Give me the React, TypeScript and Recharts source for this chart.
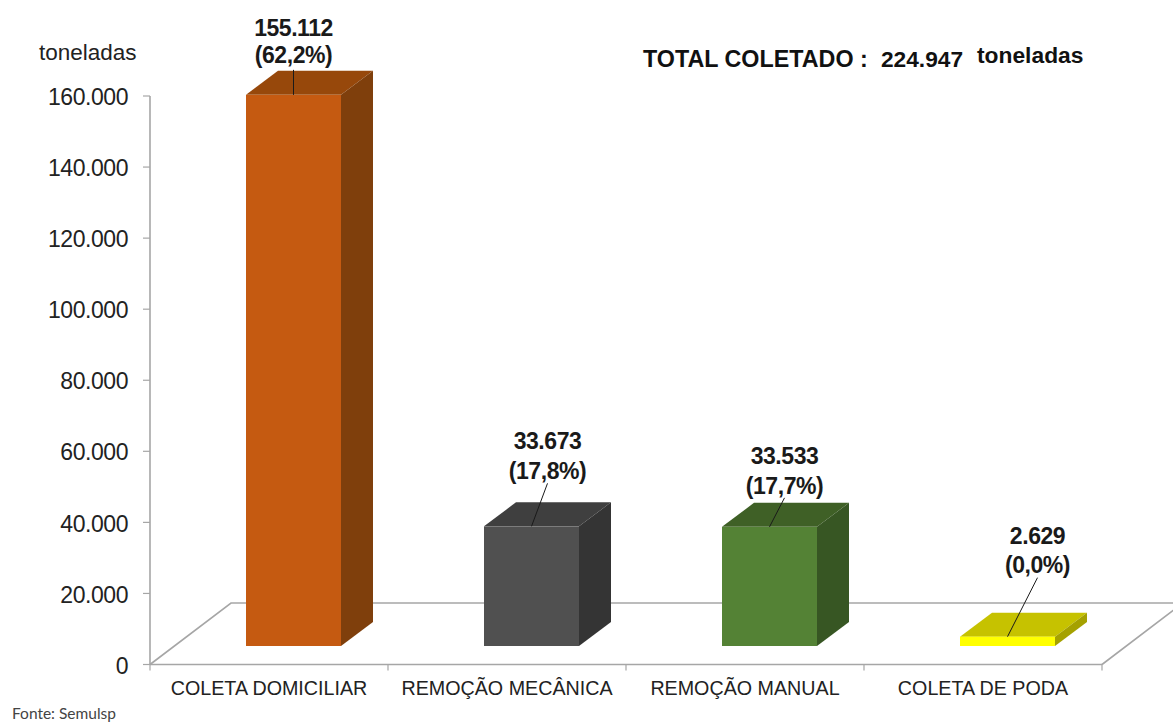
import { BarChart, Bar, XAxis, YAxis, LabelList } from 'recharts'

const categories = ['COLETA DOMICILIAR', 'REMOÇÃO MECÂNICA', 'REMOÇÃO MANUAL', 'COLETA DE PODA']
const values = [155112, 33673, 33533, 2629]
const percents = ['(62,2%)', '(17,8%)', '(17,7%)', '(0,0%)']
const yTicks = [0, 20000, 40000, 60000, 80000, 100000, 120000, 140000, 160000]

const data = categories.map((name, i) => ({ name, value: values[i] }))

const frontColors = ['#c55a11', '#505050', '#548235', '#ffff00']
const topColors = ['#97480b', '#3f3f3f', '#3f6026', '#c6c200']
const sideColors = ['#7f3f0c', '#343434', '#375623', '#a5a100']

// where each label sits relative to the top centre of its bar
const labelDx = [0, 16, 15, 30]
const labelDy = [-59, -77, -63, -93]
const labelGap = [27.5, 30, 30, 29]

const WIDTH = 1173
const HEIGHT = 722
const PLOT_LEFT = 150
const PLOT_RIGHT = 1102
const PLOT_TOP = 96
const PLOT_BOTTOM = 664.5
const SHIFT_X = 24
const SHIFT_Y = -18.5
const DEPTH_X = 32
const DEPTH_Y = 24
const FLOOR_BACK = 603
const AXIS_COLOR = '#a6a6a6'
const FONT = '"Liberation Sans", Arial, sans-serif'

function formatTick(v: number): string {
  return v.toLocaleString('de-DE')
}

function Floor() {
  const rise = PLOT_BOTTOM - FLOOR_BACK
  const run = 81
  const band = (PLOT_RIGHT - PLOT_LEFT) / categories.length
  return (
    <g>
      <polyline
        points={`${PLOT_LEFT},${PLOT_BOTTOM} ${PLOT_LEFT + run},${PLOT_BOTTOM - rise} ${PLOT_RIGHT + run},${PLOT_BOTTOM - rise} ${PLOT_RIGHT},${PLOT_BOTTOM}`}
        fill="none"
        stroke={AXIS_COLOR}
        strokeWidth={1.6}
      />
      {[0, 1, 2, 3, 4].map((i) => (
        <line
          key={i}
          x1={PLOT_LEFT + band * i}
          x2={PLOT_LEFT + band * i}
          y1={PLOT_BOTTOM}
          y2={PLOT_BOTTOM + 6}
          stroke={AXIS_COLOR}
          strokeWidth={1.2}
        />
      ))}
    </g>
  )
}

function Box3D(props: any) {
  const { x, y, width, height, index } = props
  const l = x + SHIFT_X
  const r = l + width
  const t = y + SHIFT_Y
  const b = t + height
  return (
    <g>
      <polygon
        points={`${l},${t} ${l + DEPTH_X},${t - DEPTH_Y} ${r + DEPTH_X},${t - DEPTH_Y} ${r},${t}`}
        fill={topColors[index]}
      />
      <polygon
        points={`${r},${t} ${r + DEPTH_X},${t - DEPTH_Y} ${r + DEPTH_X},${b - DEPTH_Y} ${r},${b}`}
        fill={sideColors[index]}
      />
      <rect x={l} y={t} width={width} height={height} fill={frontColors[index]} />
    </g>
  )
}

function BarLabel(props: any) {
  const { x, y, width, value, index } = props
  const cx = x + SHIFT_X + width / 2
  const top = y + SHIFT_Y
  const tx = cx + labelDx[index]
  const base = top + labelDy[index]
  const textProps = {
    textAnchor: 'middle' as const,
    fontFamily: FONT,
    fontWeight: 'bold',
    fontSize: 23,
    letterSpacing: -0.45,
    fill: '#1a1a1a',
  }
  return (
    <g>
      <line x1={tx} y1={base + 34} x2={cx} y2={top} stroke="#1a1a1a" strokeWidth={1} />
      <text x={tx} y={base} {...textProps}>
        {formatTick(value)}
      </text>
      <text x={tx} y={base + labelGap[index]} {...textProps}>
        {percents[index]}
      </text>
    </g>
  )
}

export default function App() {
  return (
    <div style={{ position: 'absolute', left: 0, top: 0, width: WIDTH, height: HEIGHT, background: '#fff' }}>
      <BarChart
        width={WIDTH}
        height={HEIGHT}
        data={data}
        barSize={95}
        margin={{ top: PLOT_TOP, right: WIDTH - PLOT_RIGHT, left: 0, bottom: 0 }}
      >
        <Floor />
        <XAxis
          dataKey="name"
          interval={0}
          height={HEIGHT - PLOT_BOTTOM}
          tickLine={false}
          tickMargin={11}
          axisLine={{ stroke: AXIS_COLOR, strokeWidth: 1.6 }}
          tick={{ fontSize: 19.7, fontFamily: FONT, fill: '#222' }}
        />
        <YAxis
          width={PLOT_LEFT}
          domain={[0, 160000]}
          ticks={yTicks}
          interval={0}
          tickFormatter={formatTick}
          tickSize={7}
          tickMargin={15}
          axisLine={{ stroke: AXIS_COLOR, strokeWidth: 1.6 }}
          tickLine={{ stroke: AXIS_COLOR, strokeWidth: 1.2 }}
          tick={{ fontSize: 23, letterSpacing: -0.45, fontFamily: FONT, fill: '#222', dy: 1 }}
        />
        <Bar dataKey="value" isAnimationActive={false} shape={Box3D}>
          <LabelList dataKey="value" content={BarLabel} />
        </Bar>
        <text x={39} y={60} fontFamily={FONT} fontSize={22.5} fill="#222">toneladas</text>
        <text x={643} y={67} fontFamily={FONT} fontWeight="bold" fontSize={23.3} fill="#111">TOTAL COLETADO :</text>
        <text x={881} y={67} fontFamily={FONT} fontWeight="bold" fontSize={22.7} fill="#111">224.947</text>
        <text x={977} y={63} fontFamily={FONT} fontWeight="bold" fontSize={22.8} fill="#111">toneladas</text>
        <text x={12} y={719} fontFamily="Lato, sans-serif" fontSize={15.5} fill="#444">Fonte: Semulsp</text>
      </BarChart>
    </div>
  )
}
